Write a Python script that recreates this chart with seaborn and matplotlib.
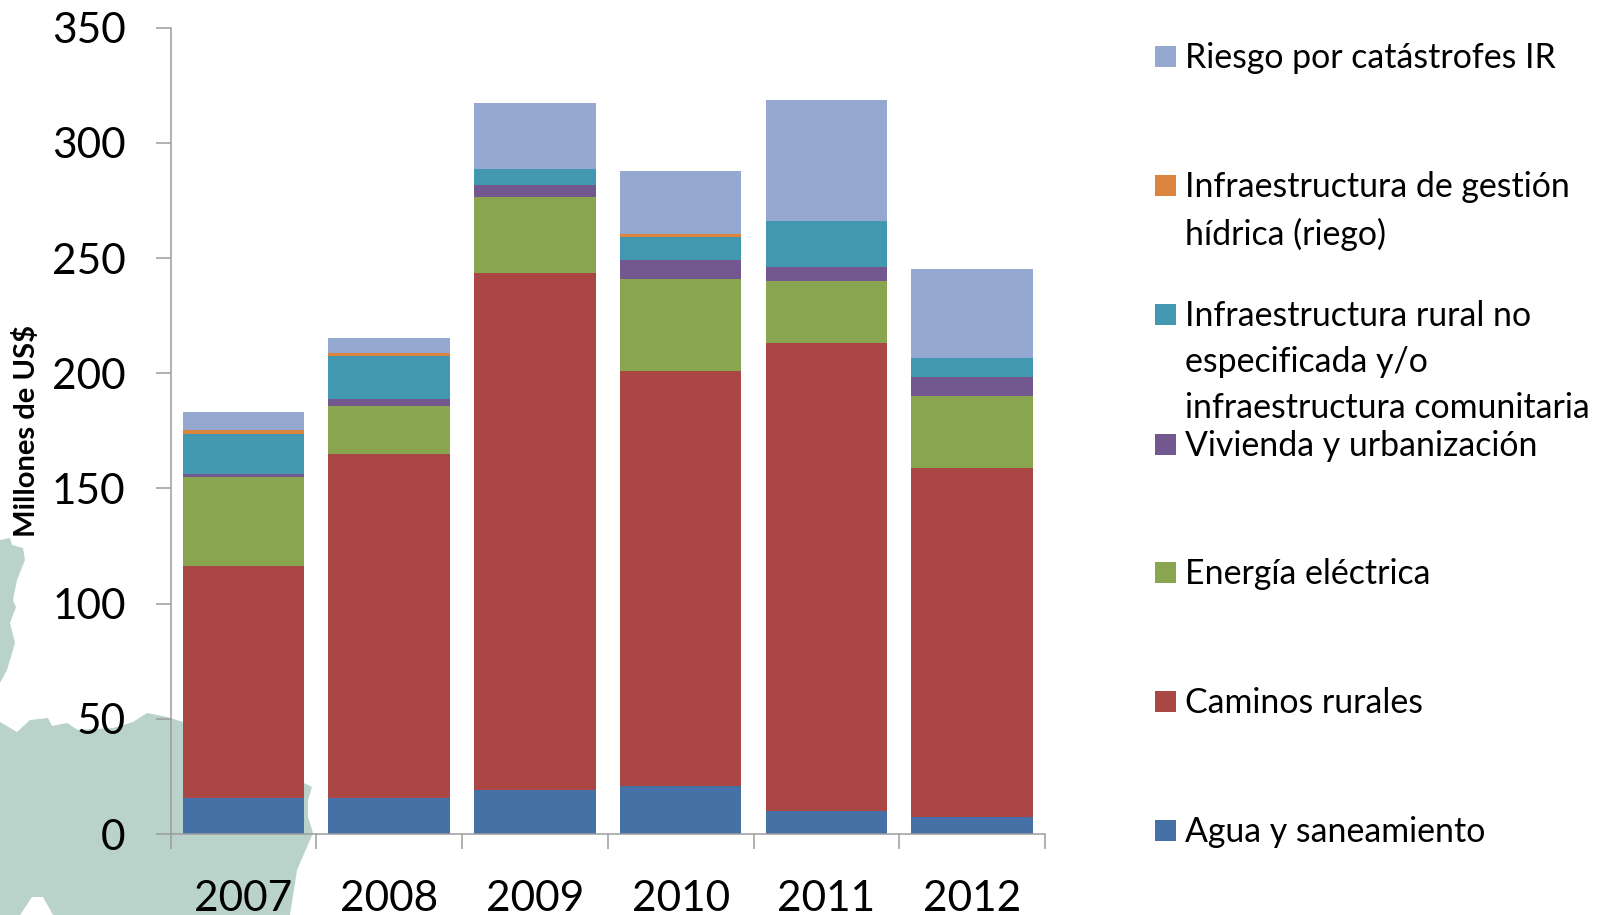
import numpy as np
import matplotlib
matplotlib.use("Agg")
import matplotlib.pyplot as plt
from matplotlib.patches import Polygon, Rectangle
import seaborn as sns

years = ["2007", "2008", "2009", "2010", "2011", "2012"]

# values, millions of US$
agua = [15.5, 15.7, 19.3, 21.0, 10.0, 7.5]
caminos = [101.0, 149.2, 224.2, 179.9, 202.9, 151.2]
energia = [38.5, 20.7, 33.0, 40.0, 27.1, 31.5]
vivienda = [1.4, 3.3, 5.3, 8.4, 6.2, 8.0]
rural = [17.4, 18.7, 6.7, 9.9, 20.0, 8.5]
riego = [1.5, 1.2, 0.2, 1.1, 0.0, 0.0]
catastrofes = [8.0, 6.5, 28.6, 27.3, 52.3, 38.5]

series = [agua, caminos, energia, vivienda, rural, riego, catastrofes]
colors = ["#4571A6", "#AA4744", "#8AA54F", "#73588F", "#4298B0", "#DB843D", "#95A9D0"]
names = [
    "Agua y saneamiento",
    "Caminos rurales",
    "Energía eléctrica",
    "Vivienda y urbanización",
    "Infraestructura rural no\nespecificada y/o\ninfraestructura comunitaria",
    "Infraestructura de gestión\nhídrica (riego)",
    "Riesgo por catástrofes IR",
]
y_ticks = [0, 50, 100, 150, 200, 250, 300, 350]

# map shapes behind the chart, in image pixels
map_north = [(0, 540), (10, 538), (12, 545), (23, 548), (25, 560), (17, 580), (13, 600),
             (16, 607), (10, 623), (15, 643), (7, 670), (0, 683)]
map_south = [(0, 722), (17, 732), (30, 720), (48, 718), (52, 726), (67, 723), (78, 730),
             (113, 728), (133, 722), (147, 713), (167, 717), (183, 722), (304, 783),
             (312, 787), (308, 800), (308, 817), (313, 833), (307, 847), (297, 870),
             (290, 915), (53, 915), (43, 897), (32, 897), (20, 915), (0, 915)]
map_color = "#B9D3CA"
axis_color = "#9C9C9C"

sns.set_style("white")
plt.rcParams["font.family"] = ["Lato", "DejaVu Sans"]

W, H = 1610, 915
fig = plt.figure(figsize=(W / 100, H / 100), dpi=100)

# full figure layer in pixels: map and legend
bg = fig.add_axes([0, 0, 1, 1], zorder=0)
bg.set_xlim(0, W)
bg.set_ylim(H, 0)
bg.axis("off")
bg.add_patch(Polygon(map_north, closed=True, fc=map_color, ec="none"))
bg.add_patch(Polygon(map_south, closed=True, fc=map_color, ec="none"))

left, right, zero, top = 170.5, 1045, 834, 27.6
ax = fig.add_axes([left / W, 1 - zero / H, (right - left) / W, (zero - top) / H], zorder=1)
ax.patch.set_alpha(0)

bottom = np.zeros(len(years))
for vals, col, name in zip(series, colors, names):
    sns.barplot(x=years, y=vals, bottom=bottom, color=col, saturation=1, width=0.833,
                linewidth=0, ax=ax, label=name, legend=False)
    bottom = bottom + np.array(vals)

ax.set_xlim(-0.5, 5.5)
ax.set_ylim(0, 350)
ax.set_yticks(y_ticks)
ax.set_xticks(np.arange(-0.5, 6), minor=True)
ax.tick_params(axis="x", which="major", length=0, pad=33, labelsize=30.5, labelcolor="black")
ax.tick_params(axis="x", which="minor", length=10.8, width=1.1, color=axis_color, bottom=True)
ax.tick_params(axis="y", length=10.8, width=1.1, color=axis_color, pad=21.5, left=True,
               labelsize=30.5, labelcolor="black")
for side in ["top", "right"]:
    ax.spines[side].set_visible(False)
for side in ["left", "bottom"]:
    ax.spines[side].set_color(axis_color)
    ax.spines[side].set_linewidth(1.1)
ax.set_xlabel("")
ax.set_ylabel("")

bg.text(27, 431, "Millones de US$", rotation=90, ha="center", va="center",
        fontsize=21, fontweight="bold", color="black")

# legend, top entry first
legend_y = [56.3, 185.3, 314.3, 444, 572, 701, 830.5]
for y, col, name in zip(legend_y, colors[::-1], names[::-1]):
    bg.add_patch(Rectangle((1155, y - 10.5), 21, 21, fc=col, ec="none"))
    bg.text(1184.5, y - 14, name, ha="left", va="top", fontsize=24.4, color="black",
            linespacing=1.53)

fig.savefig("out.png", dpi=100)
